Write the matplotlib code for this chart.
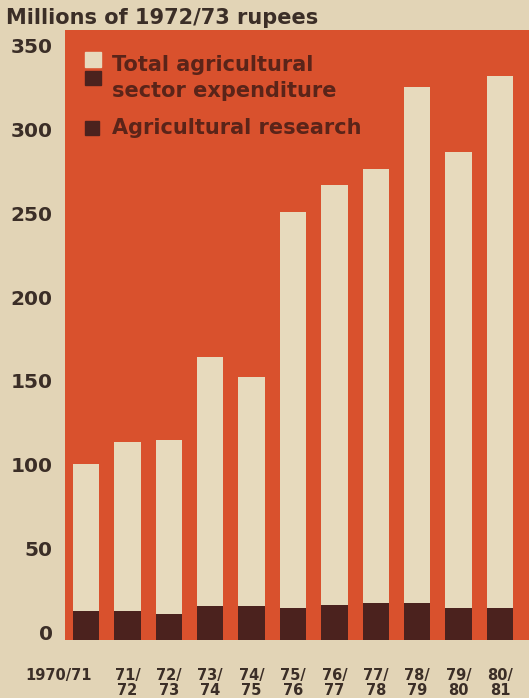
import matplotlib.pyplot as plt
from matplotlib.patches import Rectangle
from matplotlib.transforms import ScaledTranslation

years = ['1970/71', '71/\n72', '72/\n73', '73/\n74', '74/\n75', '75/\n76',
         '76/\n77', '77/\n78', '78/\n79', '79/\n80', '80/\n81']
total = [105, 118, 119, 169, 157, 255, 271, 281, 330, 291, 336]
research = [17, 17, 15.5, 20, 20, 19, 21, 22, 22, 19, 19]
yticks = [0, 50, 100, 150, 200, 250, 300, 350]

bg = '#e2d4b6'
orange = '#d9512d'
cream = '#e7dabd'
dark = '#4b221e'
ink = '#3b2e27'

plt.rcParams['font.family'] = 'DejaVu Sans'
plt.rcParams['font.weight'] = 'bold'

fig = plt.figure(figsize=(5.29, 6.98), dpi=100, facecolor=bg)
ax = fig.add_axes([65 / 529, 58 / 698, 464 / 529, 610 / 698])
ax.set_facecolor(orange)

x = list(range(len(years)))
ax.bar(x, total, width=0.64, color=cream, zorder=2)
ax.bar(x, research, width=0.64, color=dark, zorder=3)

ax.set_xlim(-0.507, 10.7)
ax.set_ylim(0, 363.7)

for s in ax.spines.values():
    s.set_visible(False)

ax.set_yticks(yticks)
ax.set_yticklabels([str(v) for v in yticks], fontsize=14.5, color=ink,
                   va='baseline')
ax.tick_params(axis='y', length=0, pad=9)

ax.set_xticks(x)
ax.set_xticklabels(years, fontsize=10.5, color=ink, linespacing=1.0)
ax.tick_params(axis='x', length=0, pad=20)
first = ax.get_xticklabels()[0]
first.set_ha('right')
first.set_transform(first.get_transform() + ScaledTranslation(6 / 100, 0, fig.dpi_scale_trans))

fig.text(6 / 529, 1 - 18 / 698, 'Millions of 1972/73 rupees', fontsize=15,
         color=ink, va='center', ha='left')

# legend
leg_col = '#5a2419'
fig.patches.append(Rectangle((85 / 529, 1 - 67 / 698), 16 / 529, 15 / 698,
                             transform=fig.transFigure, color=cream, zorder=5))
fig.patches.append(Rectangle((85 / 529, 1 - 85 / 698), 16 / 529, 14 / 698,
                             transform=fig.transFigure, color=dark, zorder=5))
fig.patches.append(Rectangle((85 / 529, 1 - 135 / 698), 14 / 529, 14 / 698,
                             transform=fig.transFigure, color=dark, zorder=5))
fig.text(112 / 529, 1 - 65 / 698, 'Total agricultural', fontsize=15,
         color=leg_col, va='center', ha='left')
fig.text(112 / 529, 1 - 91 / 698, 'sector expenditure', fontsize=15,
         color=leg_col, va='center', ha='left')
fig.text(112 / 529, 1 - 128 / 698, 'Agricultural research', fontsize=15,
         color=leg_col, va='center', ha='left')

fig.savefig('out.png', dpi=100, facecolor=bg)
